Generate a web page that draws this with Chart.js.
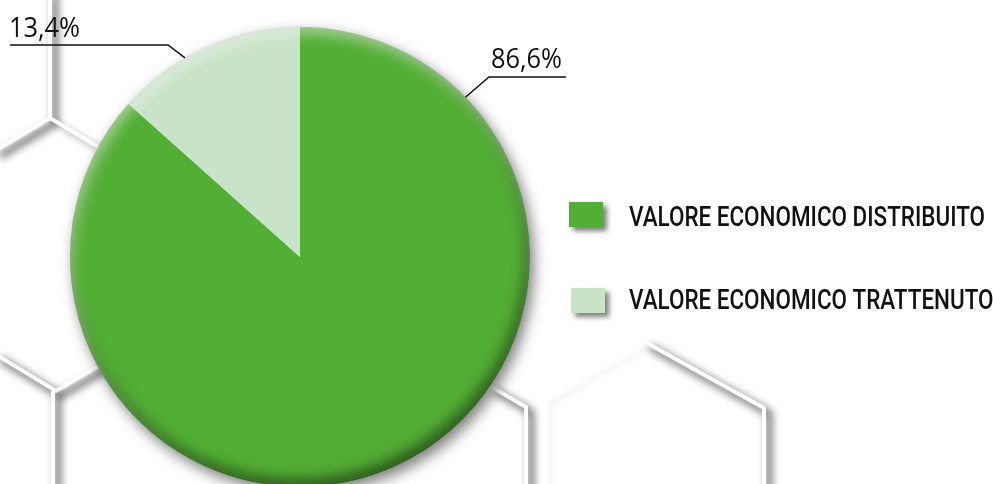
<!DOCTYPE html>
<html>
<head>
<meta charset="utf-8">
<script src="https://cdn.jsdelivr.net/npm/chart.js@4.4.1/dist/chart.umd.min.js"></script>
<style>
  html, body { margin: 0; padding: 0; background: #fff; overflow: hidden; }
  #wrap { position: relative; width: 993px; height: 520px; }
</style>
</head>
<body>
<div id="wrap"><canvas id="pie"></canvas></div>
<script>
// --- DATA ---
const categories = ['VALORE ECONOMICO DISTRIBUITO', 'VALORE ECONOMICO TRATTENUTO'];
const shares = [86.6, 13.4];
const shareLabels = ['86,6%', '13,4%'];
const sliceColors = ['#53ae35', '#c8e3c8'];

const FONT = '"Open Sans", "Noto Sans", sans-serif';
const LEGEND_FONT = '500 27px Roboto, "Open Sans", sans-serif';

// squeeze text horizontally so it fits a given width (the original uses a condensed face)
function drawFitted(ctx, text, x, y, scale) {
  ctx.save();
  ctx.translate(x, y);
  ctx.scale(scale, 1);
  ctx.fillText(text, 0, 0);
  ctx.restore();
}

// background hexagon edges: white strokes that only show their shadow
const hexPlugin = {
  id: 'hexBg',
  beforeDraw(chart) {
    const ctx = chart.ctx;
    const strong = [
      [[50, -10], [50, 118], [-5, 151]],
      [[-5, 354], [56, 391], [105, 362]],
      [[53, 391], [53, 530]],
      [[490, 386], [526, 407], [526, 530]],
      [[645, 342], [764, 408], [764, 530]]
    ];
    const faint = [
      [[50, 118], [112, 155]],
      [[645, 342], [546, 400], [546, 530]]
    ];
    const draw = (segs, alpha, blur, off) => {
      ctx.save();
      ctx.lineJoin = 'miter';
      ctx.strokeStyle = '#fff';
      ctx.lineWidth = 4;
      ctx.shadowColor = 'rgba(0,0,0,' + alpha + ')';
      ctx.shadowBlur = blur;
      ctx.shadowOffsetX = off;
      ctx.shadowOffsetY = off;
      segs.forEach(s => {
        ctx.beginPath();
        s.forEach((p, i) => i ? ctx.lineTo(p[0], p[1]) : ctx.moveTo(p[0], p[1]));
        ctx.stroke();
      });
      ctx.restore();
    };
    draw(strong, 0.9, 8, 5);
    draw([faint[0]], 0.35, 7, 4);
    draw([faint[1]], 0.06, 6, 4);
  }
};

// drop shadow under the pie + inner edge shading after
const shadePlugin = {
  id: 'pieShade',
  beforeDatasetsDraw(chart) {
    const a = chart.getDatasetMeta(0).data[0];
    const ctx = chart.ctx;
    ctx.save();
    ctx.shadowColor = 'rgba(0,0,0,0.5)';
    ctx.shadowBlur = 14;
    ctx.shadowOffsetX = 4;
    ctx.shadowOffsetY = 6;
    ctx.fillStyle = '#fff';
    ctx.beginPath();
    ctx.arc(a.x, a.y, a.outerRadius, 0, Math.PI * 2);
    ctx.fill();
    ctx.restore();
  },
  afterDatasetsDraw(chart) {
    const a = chart.getDatasetMeta(0).data[0];
    const ctx = chart.ctx;
    const r = a.outerRadius;
    const inner = (color, blur, dx, dy) => {
      ctx.save();
      ctx.beginPath();
      ctx.arc(a.x, a.y, r, 0, Math.PI * 2);
      ctx.clip();
      ctx.beginPath();
      ctx.rect(a.x - r * 3, a.y - r * 3, r * 6, r * 6);
      ctx.arc(a.x, a.y, r + 1, 0, Math.PI * 2, true);
      ctx.shadowColor = color;
      ctx.shadowBlur = blur;
      ctx.shadowOffsetX = dx;
      ctx.shadowOffsetY = dy;
      ctx.fillStyle = '#000';
      ctx.fill();
      ctx.restore();
    };
    inner('rgba(0,0,0,0.6)', 16, -3, -7);
    inner('rgba(255,255,255,0.55)', 14, 3, 7);
  }
};

// leader lines, percent labels and the legend
const labelPlugin = {
  id: 'labels',
  afterDraw(chart) {
    const ctx = chart.ctx;
    const a = chart.getDatasetMeta(0).data[0];
    const r = a.outerRadius;
    const edge = deg => [a.x + r * Math.sin(deg * Math.PI / 180), a.y - r * Math.cos(deg * Math.PI / 180)];

    ctx.save();
    ctx.font = '28px ' + FONT;
    ctx.fillStyle = '#111';
    ctx.textBaseline = 'alphabetic';
    const pctScale = 71 / ctx.measureText(shareLabels[1]).width;

    ctx.strokeStyle = '#111';
    ctx.lineWidth = 1.5;
    // 86,6%
    let p = edge(46);
    ctx.beginPath();
    ctx.moveTo(p[0], p[1]); ctx.lineTo(489, 77); ctx.lineTo(566, 77);
    ctx.stroke();
    drawFitted(ctx, shareLabels[0], 491, 68, pctScale);
    // 13,4%
    p = edge(-30);
    ctx.beginPath();
    ctx.moveTo(p[0], p[1]); ctx.lineTo(168, 45); ctx.lineTo(10, 45);
    ctx.stroke();
    drawFitted(ctx, shareLabels[1], 9, 37, pctScale);

    // legend
    ctx.font = LEGEND_FONT;
    const legScale = 356 / ctx.measureText(categories[0]).width;
    const rows = [{ box: [569, 202], text: 226 }, { box: [571, 288], text: 309 }];
    categories.forEach((c, i) => {
      ctx.save();
      ctx.shadowColor = 'rgba(0,0,0,0.5)';
      ctx.shadowBlur = 5;
      ctx.shadowOffsetX = 4;
      ctx.shadowOffsetY = 4;
      ctx.fillStyle = sliceColors[i];
      ctx.fillRect(rows[i].box[0], rows[i].box[1], 34, 25);
      ctx.restore();
      ctx.fillStyle = '#111';
      drawFitted(ctx, c, 629, rows[i].text, legScale);
    });
    ctx.restore();
  }
};

new Chart(document.getElementById('pie'), {
  type: 'pie',
  data: {
    labels: categories,
    datasets: [{
      data: shares,
      backgroundColor: sliceColors,
      borderWidth: 0,
      hoverOffset: 0,
      offset: 0
    }]
  },
  options: {
    responsive: true,
    maintainAspectRatio: false,
    animation: false,
    events: [],
    rotation: 0,
    layout: { padding: { left: 70, right: 463, top: 27, bottom: 33 } },
    plugins: {
      legend: { display: false },
      tooltip: { enabled: false }
    }
  },
  plugins: [hexPlugin, shadePlugin, labelPlugin]
});
</script>
</body>
</html>
